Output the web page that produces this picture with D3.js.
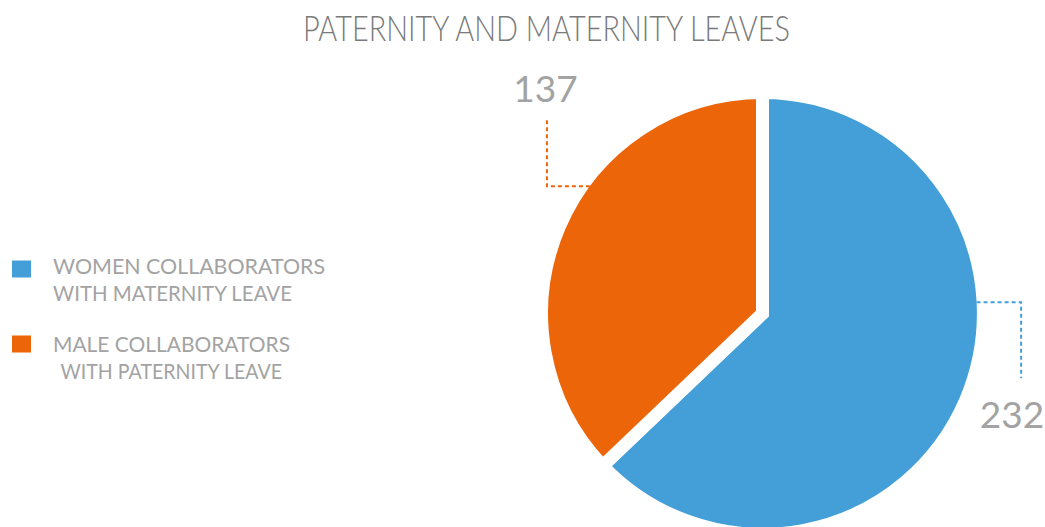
<!DOCTYPE html>
<html>
<head>
<meta charset="utf-8">
<script src="https://cdn.jsdelivr.net/npm/d3@7"></script>
<style>
  html, body { margin: 0; padding: 0; background: #fff; }
  svg { display: block; }
  text { font-family: "Lato", "Open Sans", sans-serif; font-weight: 400; }
  text.title { font-weight: 300; }
</style>
</head>
<body>
<svg id="chart" width="1045" height="527"></svg>
<script>
// Leave counts per group
const categories = ["WOMEN COLLABORATORS|WITH MATERNITY LEAVE", "MALE COLLABORATORS| WITH PATERNITY LEAVE"];
const values = [232, 137];
const colors = ["#449fd8", "#ec6609"];
const title = "PATERNITY AND MATERNITY LEAVES";

const svg = d3.select("#chart");

// Title
svg.append("text")
  .attr("class", "title")
  .attr("x", 303).attr("y", 41)
  .attr("textLength", 487).attr("lengthAdjust", "spacingAndGlyphs")
  .attr("font-size", 36)
  .attr("fill", "#7a7a7a")
  .text(title);

// Pie geometry: a white outline separates the slices
const cx = 762.5, cy = 313.4;
const gapW = 13;
const R = 214.4 + gapW / 2;

const pie = d3.pie().sort(null).value(d => d.v);
const arcs = pie(values.map((v, i) => ({ v, i })));
const arc = d3.arc().innerRadius(0).outerRadius(R);

const g = svg.append("g").attr("transform", `translate(${cx},${cy})`);
g.selectAll("path.slice")
  .data(arcs)
  .join("path")
  .attr("class", "slice")
  .attr("d", arc)
  .attr("fill", d => colors[d.data.i])
  .attr("stroke", "#fff")
  .attr("stroke-width", gapW)
  .attr("stroke-linejoin", "miter");

// Value callouts with dotted elbow leaders
const rVis = R - gapW / 2;
const callouts = [
  { i: 0, ang: 87 * Math.PI / 180, dx: 44.5, dy: 76, tx: 1012, ty: 428 },
  { i: 1, ang: 306.4 * Math.PI / 180, dx: -43, dy: -66, tx: 545.5, ty: 101.5 }
];
callouts.forEach(c => {
  const px = cx + rVis * Math.sin(c.ang);
  const py = cy - rVis * Math.cos(c.ang);
  const ex = px + c.dx;
  svg.append("path")
    .attr("d", `M${px},${py}H${ex}V${py + c.dy}`)
    .attr("fill", "none")
    .attr("stroke", colors[c.i])
    .attr("stroke-width", 2)
    .attr("stroke-dasharray", "4,3");
  svg.append("text")
    .attr("x", c.tx).attr("y", c.ty)
    .attr("text-anchor", "middle")
    .attr("font-size", 37)
    .attr("fill", "#a3a3a3")
    .text(values[c.i]);
});

// Legend
const legendRows = [
  { y: 260.5, base: 274, widths: [272, 239], xs: [53, 53] },
  { y: 335.5, base: 351.5, widths: [237, 229], xs: [53, 53] }
];
categories.forEach((cat, i) => {
  const row = legendRows[i];
  svg.append("rect")
    .attr("x", 12).attr("y", row.y)
    .attr("width", 19).attr("height", 17)
    .attr("fill", colors[i]);
  const lines = cat.split("|");
  lines.forEach((ln, j) => {
    const lead = ln.length - ln.trimStart().length;
    svg.append("text")
      .attr("x", row.xs[j] + lead * 7.5)
      .attr("y", row.base + j * 27)
      .attr("font-size", 21)
      .attr("fill", "#a3a3a3")
      .attr("textLength", row.widths[j] - lead * 7.5)
      .attr("lengthAdjust", "spacingAndGlyphs")
      .text(ln.trim());
  });
});
</script>
</body>
</html>
